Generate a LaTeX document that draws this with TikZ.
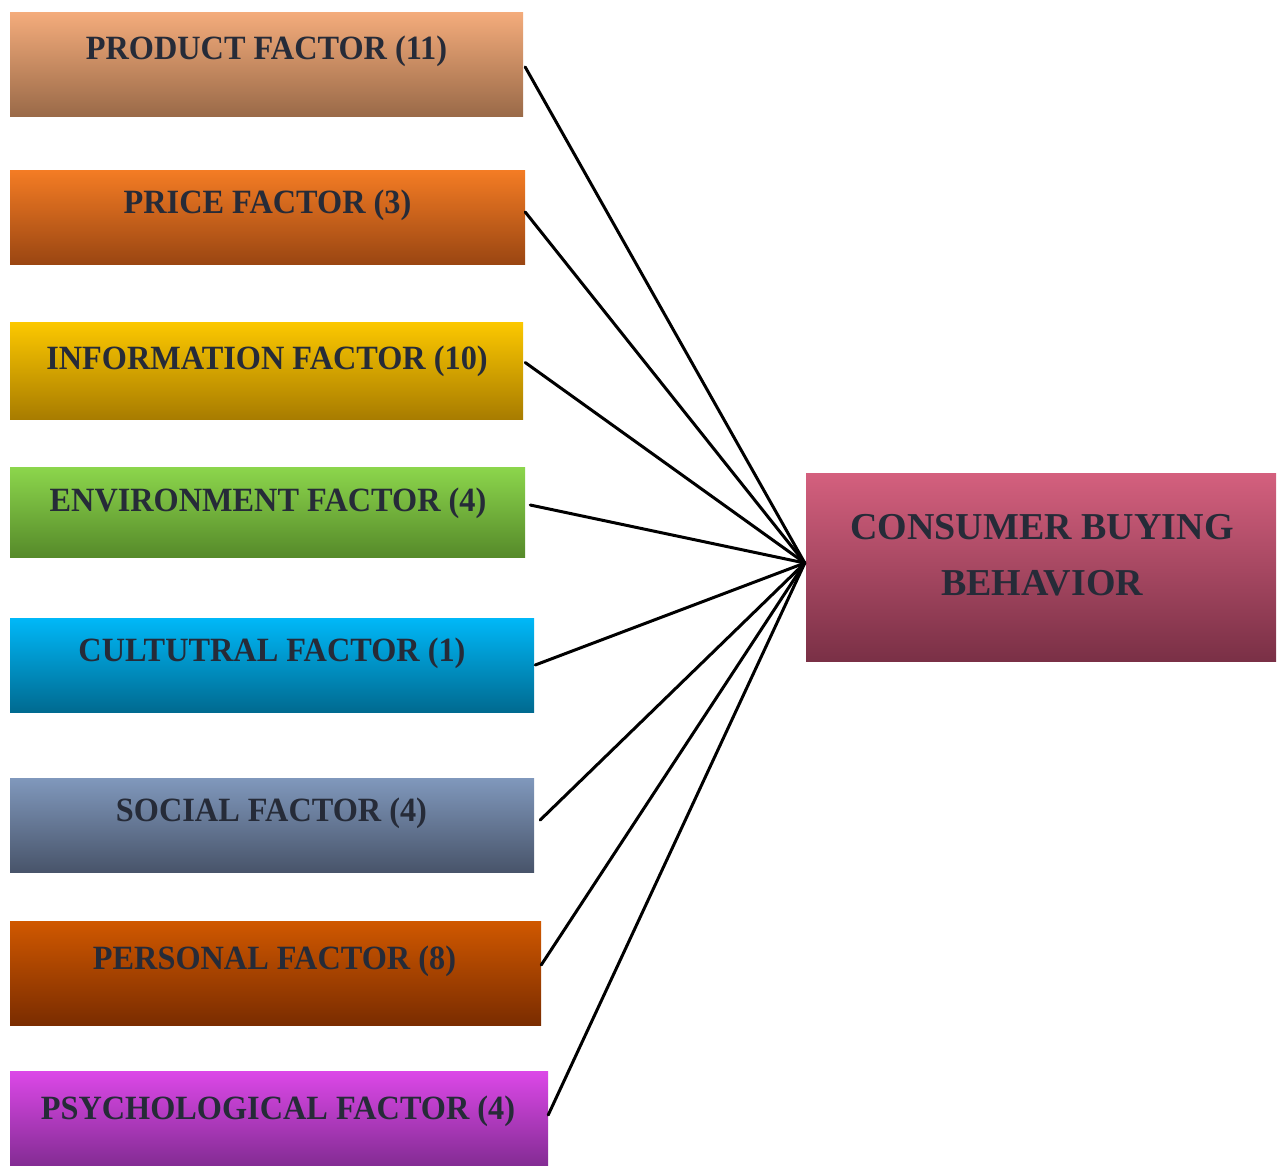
\documentclass[tikz,border=0pt]{standalone}
\usepackage{fontspec}
\setmainfont{Liberation Serif}
\newfontfamily\boxfont[FakeStretch=0.95]{Liberation Serif}
\usetikzlibrary{calc}

\definecolor{txt}{HTML}{262B38}
\definecolor{prodT}{HTML}{F4AC7C}\definecolor{prodB}{HTML}{9A6A48}
\definecolor{priceT}{HTML}{F47C24}\definecolor{priceB}{HTML}{9A4612}
\definecolor{infoT}{HTML}{FCC800}\definecolor{infoB}{HTML}{A87C00}
\definecolor{envT}{HTML}{8CD64C}\definecolor{envB}{HTML}{568A2A}
\definecolor{cultT}{HTML}{00B8F8}\definecolor{cultB}{HTML}{006A90}
\definecolor{socT}{HTML}{8098BC}\definecolor{socB}{HTML}{48546A}
\definecolor{persT}{HTML}{D05800}\definecolor{persB}{HTML}{7A2C00}
\definecolor{psyT}{HTML}{DC48E8}\definecolor{psyB}{HTML}{842C94}
\definecolor{cbT}{HTML}{D4607E}\definecolor{cbB}{HTML}{7A3046}

\tikzset{
  factorbox/.style={rectangle, inner sep=0pt, draw=none},
  factortext/.style={anchor=base, inner sep=0pt, text=txt,
    font=\boxfont\fontsize{34}{40}\selectfont\bfseries},
  maintext/.style={anchor=base, inner sep=0pt, text=txt,
    font=\fontsize{38}{44}\selectfont\bfseries},
  link/.style={draw=black, line width=3pt, line cap=round}
}

\begin{document}
\begin{tikzpicture}[x=1pt, y=-1pt]
\useasboundingbox (0,0) rectangle (1281,1167);

% factor boxes
\node[factorbox, minimum width=513, minimum height=104, top color=prodT, bottom color=prodB] (prod) at (266.5,64) {};
\node[factorbox, minimum width=515, minimum height=94, top color=priceT, bottom color=priceB] (price) at (267.5,217) {};
\node[factorbox, minimum width=513, minimum height=97, top color=infoT, bottom color=infoB] (info) at (266.5,370.5) {};
\node[factorbox, minimum width=515, minimum height=90, top color=envT, bottom color=envB] (env) at (267.5,512) {};
\node[factorbox, minimum width=524, minimum height=94, top color=cultT, bottom color=cultB] (cult) at (272,665) {};
\node[factorbox, minimum width=524, minimum height=94, top color=socT, bottom color=socB] (soc) at (272,825) {};
\node[factorbox, minimum width=531, minimum height=104, top color=persT, bottom color=persB] (pers) at (275.5,973) {};
\node[factorbox, minimum width=538, minimum height=94, top color=psyT, bottom color=psyB] (psy) at (279,1118) {};

% target box
\node[factorbox, minimum width=470, minimum height=188, top color=cbT, bottom color=cbB] (cb) at (1041,567) {};

% labels
\node[factortext] (prodt) at (266.5,59.5) {PRODUCT FACTOR (11)};
\node[factortext] (pricet) at (267.5,213.5) {PRICE FACTOR (3)};
\node[factortext] (infot) at (267,369.5) {INFORMATION FACTOR (10)};
\node[factortext] (envt) at (268,511.5) {ENVIRONMENT FACTOR (4)};
\node[factortext] (cultt) at (272,661.5) {CULTUTRAL FACTOR (1)};
\node[factortext] (soct) at (271.5,821.5) {SOCIAL FACTOR (4)};
\node[factortext] (perst) at (274.5,969.5) {PERSONAL FACTOR (8)};
\node[factortext] (psyt) at (278,1119.5) {PSYCHOLOGICAL FACTOR (4)};
\node[maintext] (cbt1) at (1042,539) {CONSUMER BUYING};
\node[maintext] (cbt2) at (1042,595) {BEHAVIOR};

% connectors
\coordinate (hub) at ([xshift=-1pt,yshift=4pt]cb.west);
\draw[link] ([xshift=2pt,yshift=-3pt]prod.east) -- (hub);
\draw[link] ([xshift=0pt,yshift=5pt]price.east) -- (hub);
\draw[link] ([xshift=2pt,yshift=8pt]info.east) -- (hub);
\draw[link] ([xshift=5pt,yshift=7pt]env.east) -- (hub);
\draw[link] ([xshift=1pt,yshift=0pt]cult.east) -- (hub);
\draw[link] ([xshift=6pt,yshift=5pt]soc.east) -- (hub);
\draw[link] ([xshift=0pt,yshift=8pt]pers.east) -- (hub);
\draw[link] ([xshift=0pt,yshift=3pt]psy.east) -- (hub);
\end{tikzpicture}
\end{document}
